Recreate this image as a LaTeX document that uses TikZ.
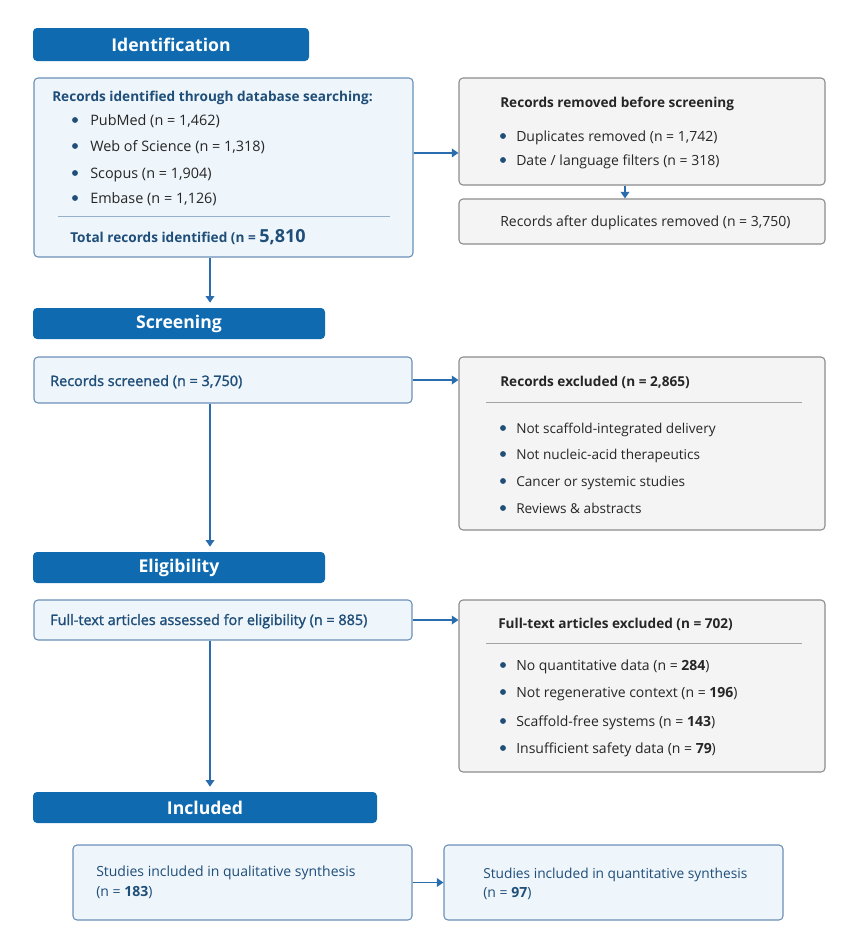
\documentclass[tikz,border=0pt]{standalone}
\usepackage{fontspec}
\setmainfont{Open Sans}
\newfontfamily\medfont{Open Sans}[FakeBold=1.6]
\usetikzlibrary{arrows.meta,fit}
\definecolor{phaseblue}{HTML}{0F6AB0}
\definecolor{navy}{HTML}{1F4E79}
\definecolor{boxfill}{HTML}{EEF5FB}
\definecolor{boxline}{HTML}{6B8FB8}
\definecolor{greyfill}{HTML}{F4F4F4}
\definecolor{greyline}{HTML}{8C8C8C}
\definecolor{flowblue}{HTML}{2A6DAE}
\tikzset{
  phase/.style={fill=phaseblue, rounded corners=3pt, inner sep=0pt},
  phasetxt/.style={inner sep=0pt, text=white, font=\fontsize{13.2}{15}\selectfont\bfseries},
  bluebox/.style={draw=boxline, fill=boxfill, rounded corners=3pt, inner sep=0pt, line width=0.8pt},
  greybox/.style={draw=greyline, fill=greyfill, rounded corners=3pt, inner sep=0pt, line width=0.8pt},
  txt/.style={anchor=base west, inner sep=0pt, text=black!85, font=\fontsize{10.5}{12}\selectfont},
  navytxt/.style={txt, text=navy},
  medtxt/.style={txt, text=navy, font=\fontsize{10.8}{12}\medfont},
  headtxt/.style={txt, font=\fontsize{10.2}{12}\selectfont\bfseries},
  rule/.style={draw=greyline!80, line width=0.6pt},
  flow/.style={-{Triangle[width=6.5pt,length=5pt]}, line width=1.2pt, draw=flowblue, fill=flowblue}
}

\begin{document}
\begin{tikzpicture}[x=0.75pt, y=-0.75pt]
  \useasboundingbox (0,0) rectangle (857,950);
  \coordinate (spine) at (210,0);
  \coordinate (drop) at (625,0);

  % --- Identification ---
  \node[phase, fit={(33,28) (309,61)}] (hIdent) {};
  \node[phasetxt] (hIdentT) at (hIdent) {Identification};
  \node[bluebox, fit={(34,78) (413,257)}] (ident) {};
  \node[headtxt, text=navy] (identT) at (52,101) {Records identified through database searching:};
  \foreach \y/\t [count=\i] in {125/{PubMed (n = 1,462)}, 151/{Web of Science (n = 1,318)},
                                 178/{Scopus (n = 1,904)}, 203/{Embase (n = 1,126)}} {
    \fill[navy] (75,\y-5) circle (2.2pt);
    \node[txt, font=\fontsize{10.8}{12}\selectfont] (db\i) at (90,\y) {\t};
  }
  \draw[draw=boxline!70, line width=0.6pt] (58,216) -- (390,216);
  \node[headtxt, text=navy] (identN) at (70,242)
    {Total records identified (n = {\fontsize{13.5}{14}\selectfont 5,810}};

  \node[greybox, fit={(459,78) (825,185)}] (removed) {};
  \node[headtxt] (removedT) at (500,107) {Records removed before screening};
  \foreach \y/\t [count=\i] in {141/{Duplicates removed (n = 1,742)}, 165/{Date / language filters (n = 318)}} {
    \fill[navy] (503,\y-5) circle (2.2pt);
    \node[txt] (rm\i) at (516,\y) {\t};
  }
  \node[greybox, fit={(459,199) (825,244)}] (after) {};
  \node[txt] (afterT) at (500,226) {Records after duplicates removed (n = 3,750)};

  \draw[flow] ([yshift=10.9pt]ident.east) coordinate (identOut) -- (identOut -| removed.west);
  \draw[flow] (removed.south -| drop) -- (after.north -| drop);
  \draw[flow] (ident.south -| spine) -- ([yshift=4pt]spine |- 0,308);

  % --- Screening ---
  \node[phase, fit={(33,308) (325,339)}] (hScreen) {};
  \node[phasetxt] (hScreenT) at (hScreen) {Screening};
  \node[bluebox, fit={(34,357) (412,403)}] (screened) {};
  \node[medtxt] (screenedT) at (50,386) {Records screened (n = 3,750)};

  \node[greybox, fit={(459,357) (825,530)}] (excluded) {};
  \node[headtxt] (excludedT) at (500,386) {Records excluded (n = 2,865)};
  \draw[rule] (486,402) -- (802,402);
  \foreach \y/\t [count=\i] in {433/{Not scaffold-integrated delivery}, 459/{Not nucleic-acid therapeutics},
                                 486/{Cancer or systemic studies}, 513/{Reviews \& abstracts}} {
    \fill[navy] (503,\y-5) circle (2.2pt);
    \node[txt, font=\fontsize{10.2}{12}\selectfont] (ex\i) at (516,\y) {\t};
  }
  \draw[flow] (screened.east) -- (screened.east -| excluded.west);
  \draw[flow] (screened.south -| spine) -- ([yshift=4pt]spine |- 0,552);

  % --- Eligibility ---
  \node[phase, fit={(33,552) (325,583)}] (hElig) {};
  \node[phasetxt] (hEligT) at (hElig) {Eligibility};
  \node[bluebox, fit={(34,600) (412,640)}] (fulltext) {};
  \node[medtxt] (fulltextT) at (50,625) {Full-text articles assessed for eligibility (n = 885)};

  \node[greybox, fit={(459,600) (825,772)}] (ftexcl) {};
  \node[headtxt] (ftexclT) at (498,628) {Full-text articles excluded (n = 702)};
  \draw[rule] (486,643) -- (802,643);
  \foreach \y/\t/\n [count=\i] in {670/{No quantitative data}/284, 697/{Not regenerative context}/196,
                                    726/{Scaffold-free systems}/143, 753/{Insufficient safety data}/79} {
    \fill[navy] (503,\y-5) circle (2.2pt);
    \node[txt] (fx\i) at (516,\y) {\t{} (n = \textbf{\n})};
  }
  \draw[flow] (fulltext.east) -- (fulltext.east -| ftexcl.west);
  \draw[flow] (fulltext.south -| spine) -- ([yshift=4pt]spine |- 0,792);

  % --- Included ---
  \node[phase, fit={(33,792) (377,823)}] (hIncl) {};
  \node[phasetxt] (hInclT) at (hIncl) {Included};
  \node[bluebox, fit={(73,845) (412,920)}] (qual) {};
  \node[navytxt] (qualT) at (96,876) {Studies included in qualitative synthesis};
  \node[navytxt] (qualN) at (96,896) {(n = \textbf{183})};

  \node[bluebox, fit={(444,845) (783,920)}] (quant) {};
  \node[navytxt, font=\fontsize{10.3}{12}\selectfont] (quantT) at (483,878) {Studies included in quantitative synthesis};
  \node[navytxt] (quantN) at (483,897) {(n = \textbf{97})};
  \draw[flow] (qual.east) -- (quant.west);
\end{tikzpicture}
\end{document}
